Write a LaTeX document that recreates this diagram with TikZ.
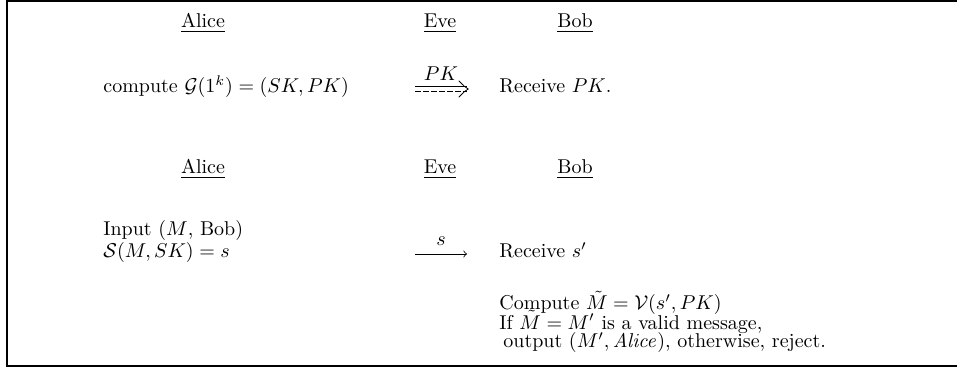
\documentclass[tikz,border=0pt]{standalone}
\usepackage{amsmath,amssymb}
\begin{document}
\begin{tikzpicture}[x=0.5pt,y=-0.5pt,
  txt/.style={inner sep=0pt,anchor=base west},
  hdr/.style={inner sep=0pt,anchor=base},
  frame/.style={line width=1pt,black},
  msg/.style={line width=0.4pt}]
\useasboundingbox (0,0) rectangle (957,368);
\draw[frame] (957,1.5) -- (7,1.5) -- (7,366) -- (957,366);
% header 1
\node[hdr] (a1) at (203,28) {\underline{Alice}};
\node[hdr] (e1) at (440,28) {\underline{Eve}};
\node[hdr] (b1) at (575,28) {\underline{Bob}};
\node[txt] (c1) at (103,93) {compute $\mathcal{G}(1^k)=(SK,PK)$};
\node[txt] (r1) at (499,93) {Receive $PK$.};
\coordinate (p1s) at (415,89);
\coordinate (p1e) at (467,89);
\draw[msg] ([yshift=1.1pt]p1s) -- ([yshift=1.1pt]p1e);
\draw[msg,dash pattern=on 3pt off 1pt] ([yshift=-1.1pt]p1s) -- ([yshift=-1.1pt]p1e);
\draw[msg,line cap=round] ([xshift=-4pt,yshift=4pt]p1e) .. controls ([xshift=-1pt,yshift=1pt]p1e) .. ([xshift=0.6pt]p1e) .. controls ([xshift=-1pt,yshift=-1pt]p1e) .. ([xshift=-4pt,yshift=-4pt]p1e);
\node[hdr] (l1) at (441,81) {$PK$};
% header 2
\node[hdr] (a2) at (203,174) {\underline{Alice}};
\node[hdr] (e2) at (440,174) {\underline{Eve}};
\node[hdr] (b2) at (575,174) {\underline{Bob}};
\node[txt] (i2) at (103,236) {Input ($M$, Bob)};
\node[txt] (s2) at (103,258) {$\mathcal{S}(M,SK)=s$};
\node[txt] (r2) at (499,258) {Receive $s'$};
\coordinate (p2s) at (415,254);
\coordinate (p2e) at (467,254);
\draw[msg,->] (p2s) -- (p2e);
\node[hdr] (l2) at (441,246) {$s$};
\node[txt] (v1) at (499,310) {Compute $\tilde{M}=\mathcal{V}(s',PK)$};
\node[txt] (v2) at (499,329) {If $\tilde{M}=M'$ is a valid message,};
\node[txt] (v3) at (503,348) {output $(M',\mathit{Alice})$, otherwise, reject.};
\end{tikzpicture}
\end{document}
